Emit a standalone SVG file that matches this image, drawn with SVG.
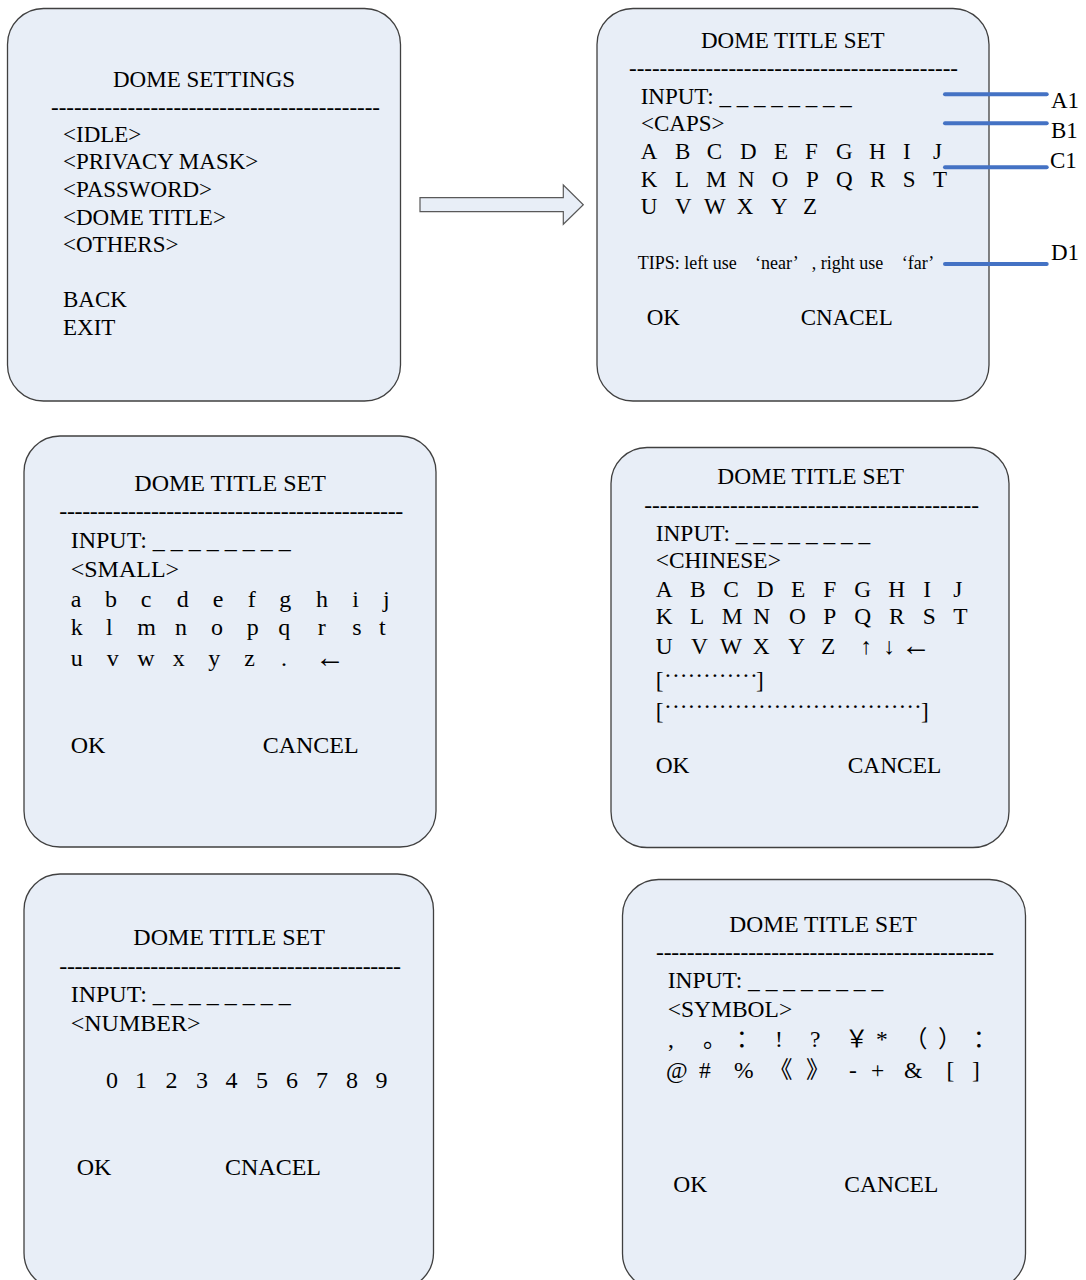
<svg xmlns="http://www.w3.org/2000/svg" width="1086" height="1280" viewBox="0 0 1086 1280">
<style>
.panel{fill:#E8EEF7;stroke:#404040;stroke-width:1.3}
text{font-family:"Liberation Serif","Noto Sans CJK SC",serif;fill:#000}
.cjk{font-family:"Noto Sans CJK SC","Liberation Serif",sans-serif}
.f23{font-size:23px}
.f24{font-size:24px}
.f234{font-size:23.4px}
.f235{font-size:23.5px}
.tips{font-size:18px}
.arr{font-size:30px}
.dots{text-anchor:middle}
.lead{stroke:#4472C4;stroke-width:4;stroke-linecap:round;fill:none}
.bigarrow{fill:#E8EEF7;stroke:#595959;stroke-width:1.2}
</style>
<rect width="1086" height="1280" fill="#FFFFFF"/>

<g id="panel-dome-settings" class="f23">
<rect class="panel" x="7.5" y="8.5" width="393" height="392.5" rx="36"/>
<text x="113" y="87">DOME SETTINGS</text>
<text x="51" y="114.5" textLength="329" lengthAdjust="spacing">-------------------------------------------</text>
<text x="63" y="141.7">&lt;IDLE&gt;</text>
<text x="63" y="169.3">&lt;PRIVACY MASK&gt;</text>
<text x="63" y="197.3">&lt;PASSWORD&gt;</text>
<text x="63" y="225">&lt;DOME TITLE&gt;</text>
<text x="63" y="252.3">&lt;OTHERS&gt;</text>
<text x="63" y="307.3">BACK</text>
<text x="63" y="335">EXIT</text>
</g>

<g id="panel-caps" class="f23">
<rect class="panel" x="597" y="8.5" width="392" height="392.5" rx="36"/>
<text x="701" y="48.3">DOME TITLE SET</text>
<text x="629" y="75.5" textLength="329" lengthAdjust="spacing">-------------------------------------------</text>
<text x="640.7" y="104">INPUT: _ _ _ _ _ _ _ _</text>
<text x="641" y="131">&lt;CAPS&gt;</text>
<text x="640.7 675 706.7 740 774 805 836 869 903 933" y="159.3">ABCDEFGHIJ</text>
<text x="640.7 675 706 738 771.7 806 836 870 902.7 933" y="187.3">KLMNOPQRST</text>
<text x="640.7 675 704 736.7 771 803" y="214">UVWXYZ</text>
<text class="tips" y="269.3"><tspan x="637.7">TIPS: left use</tspan><tspan x="755">‘near’</tspan><tspan x="811.7">, right use</tspan><tspan x="901.7">‘far’</tspan></text>
<text x="646.7" y="325">OK</text>
<text x="800.7" y="325">CNACEL</text>
</g>

<g id="panel-small" class="f24">
<rect class="panel" x="24" y="436" width="412" height="411" rx="36"/>
<text x="134.3" y="491">DOME TITLE SET</text>
<text x="59.3" y="519" textLength="344" lengthAdjust="spacing">---------------------------------------------</text>
<text x="70.7" y="548.3">INPUT: _ _ _ _ _ _ _ _</text>
<text x="70.7" y="576.7">&lt;SMALL&gt;</text>
<text x="70.7 105 140.7 176.7 212.7 247.7 279.3 316 352.3 383" y="606.7">abcdefghij</text>
<text x="70.7 106 137.3 175 211 246.7 278.3 317.7 352.3 379" y="635">klmnopqrst</text>
<text x="70.7 106.7 137.3 172.7 208.3 244.3 281" y="666">uvwxyz.</text>
<text class="arr" x="315" y="667">←</text>
<text x="70.7" y="753.3">OK</text>
<text x="262.7" y="753.3">CANCEL</text>
</g>

<g id="panel-chinese" class="f234">
<rect class="panel" x="611" y="447.5" width="398" height="400" rx="36"/>
<text x="717.3" y="484.3">DOME TITLE SET</text>
<text x="644.3" y="513.3" textLength="334.7" lengthAdjust="spacing">-------------------------------------------</text>
<text x="655.7" y="541">INPUT: _ _ _ _ _ _ _ _</text>
<text x="655.7" y="568.3">&lt;CHINESE&gt;</text>
<text x="655.7 690 723.3 756.7 791 823.3 854.3 888.3 923.3 953.3" y="596.7">ABCDEFGHIJ</text>
<text x="655.7 690 721.7 753.3 789 823.3 854.3 889 922.7 953.3" y="624.3">KLMNOPQRST</text>
<text x="655.7 691 720 752.7 788.3 821" y="654.3">UVWXYZ</text>
<text x="860.5 883.5" y="654.3">↑↓</text>
<text class="arr" x="901" y="655">←</text>
<text x="655.7" y="688.3">[</text>
<text class="dots" y="683.3" x="668 675.8 683.6 691.4 699.2 707 714.8 722.6 730.4 738.2 746 753.8">············</text>
<text x="756" y="688.3">]</text>
<text x="655.7" y="719.3">[</text>
<text class="dots" y="714.3" x="668 675.8 683.6 691.4 699.3 707.1 714.9 722.7 730.5 738.3 746.1 753.9 761.8 769.6 777.4 785.2 793 800.8 808.6 816.4 824.3 832.1 839.9 847.7 855.5 863.3 871.1 878.9 886.8 894.6 902.4 910.2 918">·································</text>
<text x="921" y="719.3">]</text>
<text x="655.7" y="773.3">OK</text>
<text x="847.7" y="773.3">CANCEL</text>
</g>

<g id="panel-number" class="f24">
<rect class="panel" x="24" y="874" width="409.5" height="415" rx="36"/>
<text x="133.3" y="945">DOME TITLE SET</text>
<text x="59.3" y="973.5" textLength="341.7" lengthAdjust="spacing">---------------------------------------------</text>
<text x="70.7" y="1001.7">INPUT: _ _ _ _ _ _ _ _</text>
<text x="70.7" y="1030.7">&lt;NUMBER&gt;</text>
<text x="106 135 165.5 196 225.5 256 286 316 346 375.5" y="1088.3">0123456789</text>
<text x="76.7" y="1175">OK</text>
<text x="225" y="1175">CNACEL</text>
</g>

<g id="panel-symbol" class="f235">
<rect class="panel" x="622.5" y="879.5" width="403" height="410" rx="36"/>
<text x="729.3" y="931.7">DOME TITLE SET</text>
<text x="656" y="960" textLength="338" lengthAdjust="spacing">--------------------------------------------</text>
<text x="667.7" y="988.3">INPUT: _ _ _ _ _ _ _ _</text>
<text x="667.7" y="1016.7">&lt;SYMBOL&gt;</text>
<text y="1046.7"><tspan x="668">,</tspan><tspan class="cjk" x="703">。</tspan><tspan class="cjk" x="736">：</tspan><tspan x="775">!</tspan><tspan x="810">?</tspan><tspan class="cjk" x="845">￥</tspan><tspan x="876">*</tspan><tspan class="cjk" x="904">（</tspan><tspan class="cjk" x="938">）</tspan><tspan class="cjk" x="973">：</tspan></text>
<text y="1078.3"><tspan x="666">@</tspan><tspan x="699">#</tspan><tspan x="734">%</tspan><tspan class="cjk" x="769">《</tspan><tspan class="cjk" x="806">》</tspan><tspan x="849">-</tspan><tspan x="871">+</tspan><tspan x="904">&amp;</tspan><tspan x="946.5">[</tspan><tspan x="972">]</tspan></text>
<text x="673.3" y="1192.3">OK</text>
<text x="844.3" y="1192.3">CANCEL</text>
</g>

<g id="connectors">
<polygon class="bigarrow" points="420,197.7 563.3,197.7 563.3,185 583.3,204.7 563.3,224.3 563.3,211.7 420,211.7"/>
<line class="lead" x1="945" y1="94.3" x2="1046.7" y2="94.3"/>
<line class="lead" x1="945" y1="123.3" x2="1046.7" y2="123.3"/>
<line class="lead" x1="945" y1="167.3" x2="1046.7" y2="167.3"/>
<line class="lead" x1="945" y1="264" x2="1046.7" y2="264"/>
</g>

<g id="callout-labels" class="f23">
<text x="1051" y="108.3">A1</text>
<text x="1051" y="137.7">B1</text>
<text x="1050" y="168.3">C1</text>
<text x="1051" y="260">D1</text>
</g>
</svg>
